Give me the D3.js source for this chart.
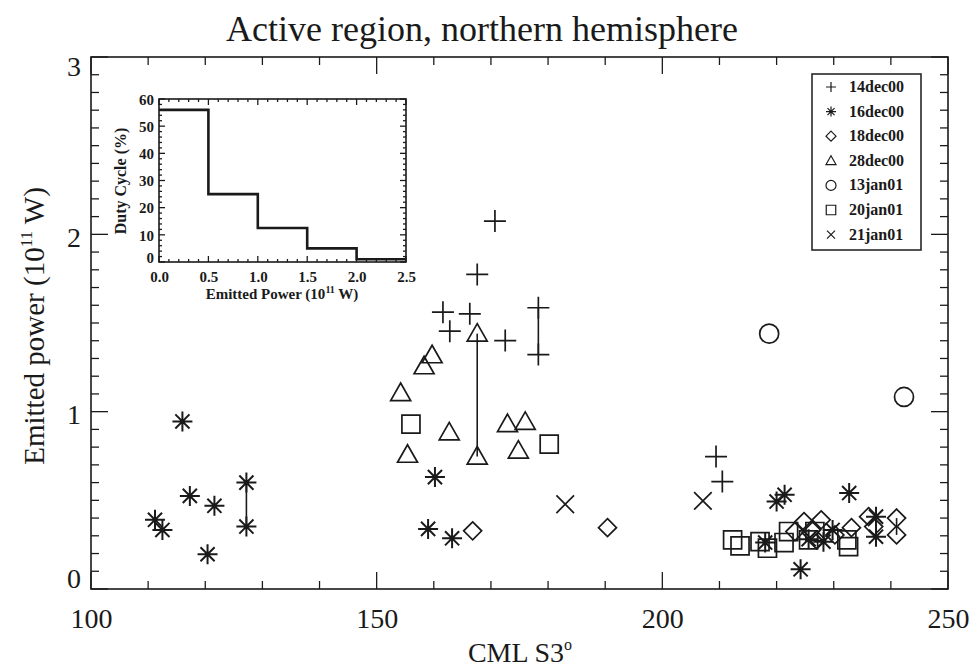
<!DOCTYPE html>
<html><head><meta charset="utf-8">
<script src="https://cdn.jsdelivr.net/npm/d3@7"></script>
<style>body{margin:0;background:#fff}svg{display:block}</style>
</head><body>
<svg id="c" width="974" height="670"></svg>
<script>
// ---- data ----
const legendLabels = ["14dec00","16dec00","18dec00","28dec00","13jan01","20jan01","21jan01"];
const symbolKinds  = ["plus","asterisk","diamond","triangle","circle","square","cross"];
const s14dec00 = [[170.7,2.075],[167.6,1.774],[161.6,1.561],[166.3,1.552],[162.8,1.454],[172.5,1.401],[178.3,1.586],[178.3,1.322],[209.4,0.747],[210.5,0.606]];
const s16dec00 = [[116.0,0.945],[111.2,0.39],[112.5,0.333],[117.3,0.525],[121.6,0.469],[120.4,0.196],[127.2,0.60],[127.2,0.352],
                  [160.2,0.631],[159.0,0.339],[163.2,0.286],
                  [221.4,0.531],[220.0,0.493],[232.7,0.541],[237.4,0.408],[237.4,0.295],[224.2,0.111],[218.0,0.262],[225.6,0.281],[229.8,0.333],[228.2,0.267]];
const s18dec00 = [[166.8,0.328],[190.4,0.346],[224.8,0.38],[227.8,0.39],[233.1,0.346],[236.1,0.408],[241.0,0.40],[241.0,0.305],[223.2,0.324],[226.1,0.333],[227.0,0.277],[230.2,0.305],[237.0,0.352]];
const s28dec00 = [[167.6,1.44],[167.6,0.747],[159.7,1.318],[158.3,1.256],[154.2,1.105],[162.7,0.883],[155.4,0.757],[172.9,0.93],[176.0,0.942],[174.8,0.78]];
const s13jan01 = [[218.7,1.44],[242.3,1.083]];
const s20jan01 = [[156.0,0.93],[180.2,0.817],[212.3,0.277],[213.6,0.243],[217.1,0.267],[218.4,0.23],[221.3,0.262],[222.1,0.324],[225.6,0.277],[226.7,0.324],[232.6,0.239],[232.3,0.277]];
const s21jan01 = [[183.0,0.478],[207.1,0.497]];
const seriesList = [s14dec00,s16dec00,s18dec00,s28dec00,s13jan01,s20jan01,s21jan01];
// vertical connectors [x, y1, y2]
const connectors = [[127.2,0.60,0.352],[167.6,1.44,0.747],[178.3,1.586,1.322],[241.0,0.40,0.305],[237.4,0.408,0.295]];
const xTicks = [100,150,200,250];
const yTicks = [0,1,2,3];
// inset histogram
const binEdges = [0.0,0.5,1.0,1.5,2.0,2.5];
const dutyCycle = [56,25,12.5,5,1];
const insetXTicks = [0.0,0.5,1.0,1.5,2.0,2.5];
const insetYTicks = [0,10,20,30,40,50,60];

// ---- chart ----
const svg = d3.select("#c");
const ink = "#1a1a1a";
const serif = "'Liberation Serif', 'DejaVu Serif', serif";
const L=91, R=948, T=57, B=589;
const x = d3.scaleLinear().domain([100,250]).range([L,R]);
const y = d3.scaleLinear().domain([0,3]).range([B,T]);

svg.append("text").attr("x",482).attr("y",41).attr("text-anchor","middle")
  .attr("font-family",serif).attr("font-size",36).attr("fill",ink).text("Active region, northern hemisphere");

function frameAxes(g, xs, ys, xMaj, xMin, yMaj, yMin, majLen, minLen, sw){
  const [x0,x1]=xs.range(), [y0,y1]=ys.range();
  g.append("rect").attr("x",x0).attr("y",y1).attr("width",x1-x0).attr("height",y0-y1)
    .attr("fill","none").attr("stroke",ink).attr("stroke-width",sw);
  xMin.forEach(v=>{
    const len = xMaj.some(m=>Math.abs(m-v)<1e-9)?majLen:minLen;
    g.append("line").attr("x1",xs(v)).attr("x2",xs(v)).attr("y1",y0).attr("y2",y0-len).attr("stroke",ink).attr("stroke-width",sw*0.8);
    g.append("line").attr("x1",xs(v)).attr("x2",xs(v)).attr("y1",y1).attr("y2",y1+len).attr("stroke",ink).attr("stroke-width",sw*0.8);
  });
  yMin.forEach(v=>{
    const len = yMaj.some(m=>Math.abs(m-v)<1e-9)?majLen:minLen;
    g.append("line").attr("y1",ys(v)).attr("y2",ys(v)).attr("x1",x0).attr("x2",x0+len).attr("stroke",ink).attr("stroke-width",sw*0.8);
    g.append("line").attr("y1",ys(v)).attr("y2",ys(v)).attr("x1",x1).attr("x2",x1-len).attr("stroke",ink).attr("stroke-width",sw*0.8);
  });
}
const main = svg.append("g");
frameAxes(main, x, y, xTicks, d3.range(100,250.01,10), yTicks, d3.range(0,3.001,0.1).map(v=>+v.toFixed(1)), 17, 8, 1.6);

// tick labels via d3 axes (no tick lines)
main.append("g").attr("transform",`translate(0,${B})`)
  .call(d3.axisBottom(x).tickValues(xTicks).tickSize(0).tickPadding(19).tickFormat(d3.format("d")))
  .call(g=>g.select(".domain").remove())
  .selectAll("text").attr("font-family",serif).attr("font-size",28).attr("fill",ink);
main.append("g").attr("transform",`translate(${L},0)`)
  .call(d3.axisLeft(y).tickValues(yTicks).tickSize(0).tickPadding(10).tickFormat(d3.format("d")))
  .call(g=>g.select(".domain").remove())
  .selectAll("text").attr("font-family",serif).attr("font-size",28).attr("fill",ink)
  .attr("dy",d=> d===0 ? "-0.05em" : d===3 ? "0.65em" : "0.42em");

const xt = svg.append("text").attr("x",520).attr("y",662).attr("text-anchor","middle")
  .attr("font-family",serif).attr("font-size",28).attr("fill",ink);
xt.append("tspan").text("CML S3");
xt.append("tspan").attr("font-size",16).attr("dy",-12).text("o");

const yt = svg.append("text").attr("transform","translate(44,326) rotate(-90)").attr("text-anchor","middle")
  .attr("font-family",serif).attr("font-size",29).attr("fill",ink);
yt.append("tspan").text("Emitted power (10");
yt.append("tspan").attr("font-size",17).attr("dy",-12).text("11");
yt.append("tspan").attr("dy",12).text(" W)");

// symbols
function symPath(kind, r){
  switch(kind){
    case "plus": return `M${-r},0H${r}M0,${-r}V${r}`;
    case "asterisk": { const a=r*0.707; return `M${-r},0H${r}M0,${-r}V${r}M${-a},${-a}L${a},${a}M${-a},${a}L${a},${-a}`; }
    case "diamond": return `M0,${-r}L${r},0L0,${r}L${-r},0Z`;
    case "triangle": return `M0,${-r}L${r*1.0},${r*0.75}L${-r*1.0},${r*0.75}Z`;
    case "circle": return `M${r},0A${r},${r} 0 1,1 ${-r},0A${r},${r} 0 1,1 ${r},0Z`;
    case "square": { const s=r*0.95; return `M${-s},${-s}H${s}V${s}H${-s}Z`; }
    case "cross": { const a=r*0.8; return `M${-a},${-a}L${a},${a}M${-a},${a}L${a},${-a}`; }
  }
}
const symR = {plus:11,asterisk:10,diamond:9,triangle:10,circle:9.5,square:9.5,cross:11};
const marks = svg.append("g");
marks.selectAll("line.conn").data(connectors).join("line").attr("class","conn")
  .attr("x1",d=>x(d[0])).attr("x2",d=>x(d[0])).attr("y1",d=>y(d[1])).attr("y2",d=>y(d[2]))
  .attr("stroke",ink).attr("stroke-width",1.6);
seriesList.forEach((s,i)=>{
  const kind = symbolKinds[i];
  marks.append("g").selectAll("path").data(s).join("path")
    .attr("transform",d=>`translate(${x(d[0])},${y(d[1])})`)
    .attr("d",symPath(kind,symR[kind])).attr("fill","none").attr("stroke",ink)
    .attr("stroke-width",kind==="asterisk"?2:1.7);
  if(kind==="asterisk"){
    marks.append("g").selectAll("circle").data(s).join("circle")
      .attr("cx",d=>x(d[0])).attr("cy",d=>y(d[1])).attr("r",1.8).attr("fill",ink);
  }
});

// legend
const lg = svg.append("g");
lg.append("rect").attr("x",812).attr("y",74).attr("width",109).attr("height",176)
  .attr("fill","#fff").attr("stroke",ink).attr("stroke-width",1.5);
legendLabels.forEach((lab,i)=>{
  const yy = 87 + i*24.6;
  lg.append("path").attr("transform",`translate(831,${yy})`).attr("d",symPath(symbolKinds[i],5))
    .attr("fill","none").attr("stroke",ink).attr("stroke-width",1.2);
  lg.append("text").attr("x",849).attr("y",yy+5).attr("font-family",serif).attr("font-weight","bold")
    .attr("font-size",16).attr("fill",ink).text(lab);
});

// inset
const ix = d3.scaleLinear().domain([0,2.5]).range([159,406]);
const iy = d3.scaleLinear().domain([0,60]).range([262,99]);
const ins = svg.append("g");
ins.append("rect").attr("x",159).attr("y",99).attr("width",247).attr("height",163).attr("fill","#fff");
frameAxes(ins, ix, iy, insetXTicks, d3.range(0,2.5001,0.1).map(v=>+v.toFixed(1)), insetYTicks, d3.range(0,60.01,2), 6, 3, 1.6);
const stepData = [];
dutyCycle.forEach((v,i)=>{ stepData.push([binEdges[i],v]); stepData.push([binEdges[i+1],v]); });
ins.append("path").datum(stepData).attr("d",d3.line().x(d=>ix(d[0])).y(d=>iy(d[1])))
  .attr("fill","none").attr("stroke",ink).attr("stroke-width",2.6);
ins.append("g").attr("transform","translate(0,262)")
  .call(d3.axisBottom(ix).tickValues(insetXTicks).tickSize(0).tickPadding(9).tickFormat(d3.format(".1f")))
  .call(g=>g.select(".domain").remove())
  .selectAll("text").attr("font-family",serif).attr("font-weight","bold").attr("font-size",15).attr("fill",ink);
ins.append("g").attr("transform","translate(159,0)")
  .call(d3.axisLeft(iy).tickValues(insetYTicks).tickSize(0).tickPadding(5).tickFormat(d3.format("d")))
  .call(g=>g.select(".domain").remove())
  .selectAll("text").attr("font-family",serif).attr("font-weight","bold").attr("font-size",15).attr("fill",ink)
  .attr("dy",d=> d===0 ? "0.05em" : "0.35em");
const ixt = ins.append("text").attr("x",282).attr("y",299).attr("text-anchor","middle")
  .attr("font-family",serif).attr("font-weight","bold").attr("font-size",15).attr("fill",ink);
ixt.append("tspan").text("Emitted Power (10");
ixt.append("tspan").attr("font-size",10).attr("dy",-6).text("11");
ixt.append("tspan").attr("dy",6).text(" W)");
ins.append("text").attr("transform","translate(126,181) rotate(-90)").attr("text-anchor","middle")
  .attr("font-family",serif).attr("font-weight","bold").attr("font-size",16).attr("fill",ink).text("Duty Cycle (%)");
</script>
</body></html>
